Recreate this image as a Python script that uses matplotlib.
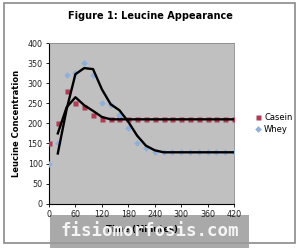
import numpy as np
import matplotlib
matplotlib.use("Agg")
import matplotlib.pyplot as plt
from matplotlib.patches import Rectangle

# data (time in minutes)
time = np.arange(0, 421, 20)
casein = [150, 200, 280, 250, 240, 222, 210, 210, 210, 210, 210,
          210, 210, 210, 210, 210, 210, 210, 210, 210, 210, 210]
whey = [100, 150, 320, 325, 350, 320, 250, 245, 220, 188, 151,
        138, 128, 128, 128, 128, 128, 128, 128, 128, 128, 128]
xticks = np.arange(0, 421, 60)
yticks = np.arange(0, 401, 50)


def moving_avg(v, n=2):
    v = np.asarray(v, dtype=float)
    return np.convolve(v, np.ones(n) / n, mode="valid")


fig = plt.figure(figsize=(3.0, 2.48), dpi=100)
ax = fig.add_axes([0.1633, 0.1786, 0.6167, 0.648])
ax.set_facecolor("#c0c0c0")
ax.set_zorder(6)

ax.plot(time, casein, "s", color="#b23a52", ms=3.6, mec="none", label="Casein", zorder=3)
ax.plot(time, whey, "D", color="#8fb0dc", ms=3.4, mec="none", label="Whey", zorder=3)
ax.plot(time[1:], moving_avg(casein), color="black", lw=1.7, zorder=4)
ax.plot(time[1:], moving_avg(whey), color="black", lw=1.7, zorder=4)

ax.set_xlim(0, 420)
ax.set_ylim(0, 400)
ax.set_xticks(xticks)
ax.set_yticks(yticks)
ax.tick_params(labelsize=5.8, length=2.5, width=0.7, pad=2, colors="#222222")
for s in ["top", "right"]:
    ax.spines[s].set_color("#8a8a8a")
    ax.spines[s].set_linewidth(0.6)
for s in ["left", "bottom"]:
    ax.spines[s].set_linewidth(0.8)

ax.set_title("Figure 1: Leucine Appearance", fontsize=7, fontweight="bold", pad=17, x=0.546)
ax.set_ylabel("Leucine Concentration", fontsize=6, fontweight="bold", labelpad=5)
ax.set_xlabel("Time (Minutes)", fontsize=6, fontweight="bold", labelpad=4)

ax.legend(loc="center left", bbox_to_anchor=(1.10, 0.5), frameon=False,
          fontsize=6, handlelength=0.6, handletextpad=0.4, labelspacing=0.3,
          borderaxespad=0)

# outer border of the chart
fig.patches.append(Rectangle((4 / 300, 5 / 248), 291 / 300, 240 / 248,
                             transform=fig.transFigure, fill=False,
                             edgecolor="#8a8a8a", lw=1.2, zorder=0))

# watermark band
fig.patches.append(Rectangle((50 / 300, 0), 199 / 300, 33 / 248,
                             transform=fig.transFigure, facecolor="#9a9a9a",
                             alpha=0.85, edgecolor="none", zorder=5))
fig.text(150 / 300, 17 / 248, "fisiomorfosis.com", color="#f4f4f4",
         fontsize=12.5, family="DejaVu Sans Mono", fontweight="bold",
         ha="center", va="center", zorder=7)

fig.savefig("out.png", dpi=100)
